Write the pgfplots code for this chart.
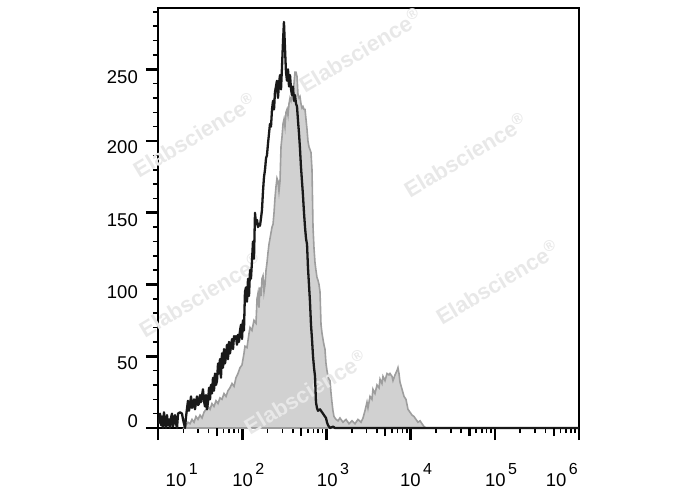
\documentclass[border=0pt]{standalone}
\usepackage{fontspec}
\setmainfont{Liberation Sans}
\usepackage{pgfplots}
\pgfplotsset{compat=1.18}
\usepackage{pgfplotstable}
\newcommand{\ex}[1]{10\hspace{2.5bp}\raisebox{11.5bp}{\fontsize{16bp}{16bp}\selectfont #1}}
\newcommand{\wm}{\bfseries\fontsize{22bp}{22bp}\selectfont}

\pgfplotstableread{
e v
1.012 3
1.024 10
1.036 2
1.048 8
1.059 0
1.071 11
1.083 4
1.095 0
1.107 9
1.119 2
1.131 6
1.143 0
1.154 7
1.166 10
1.178 1
1.190 5
1.202 9
1.214 3
1.226 0
1.238 10
1.261 11
1.285 10
1.297 6
1.321 0
1.333 8
1.356 19
1.368 12
1.380 16
1.392 22
1.404 14
1.428 20
1.439 13
1.463 22
1.475 16
1.487 17
1.499 23
1.511 18
1.534 27
1.546 19
1.558 15
1.570 23
1.582 13
1.594 18
1.606 28
1.618 20
1.629 30
1.641 24
1.653 35
1.665 26
1.677 38
1.689 30
1.701 33
1.713 45
1.724 38
1.736 48
1.748 35
1.760 52
1.772 42
1.784 55
1.796 45
1.808 50
1.819 58
1.831 48
1.843 60
1.855 52
1.867 57
1.879 62
1.891 55
1.903 64
1.914 63
1.926 64
1.938 58
1.950 65
1.962 60
1.974 68
1.986 72
1.998 62
2.009 75
2.021 68
2.033 95
2.045 98
2.057 88
2.069 104
2.081 92
2.093 110
2.104 104
2.116 116
2.128 130
2.140 118
2.152 150
2.164 142
2.176 145
2.188 140
2.199 142
2.211 141
2.223 146
2.235 152
2.247 165
2.259 175
2.271 180
2.283 188
2.294 190
2.306 198
2.318 205
2.330 212
2.342 210
2.354 222
2.366 228
2.378 222
2.389 234
2.401 238
2.413 242
2.425 230
2.437 240
2.449 246
2.461 236
2.473 252
2.485 270
2.496 283
2.508 265
2.520 248
2.532 242
2.544 250
2.556 238
2.568 246
2.580 236
2.591 232
2.603 238
2.615 228
2.627 232
2.639 226
2.651 224
2.663 214
2.675 205
2.686 195
2.698 182
2.710 172
2.722 162
2.734 150
2.746 140
2.758 132
2.770 128
2.781 112
2.793 100
2.805 88
2.817 72
2.829 62
2.841 50
2.853 42
2.865 36
2.876 18
2.888 14
2.900 12
2.924 13
2.948 11
2.971 9
2.995 7
3.007 4
3.019 2
3.043 0
3.078 1
3.102 0
6.000 0
}\blackdata

\pgfplotstableread{
e v
1.309 0
1.333 2
1.356 4
1.380 3
1.404 6
1.428 4
1.451 8
1.475 6
1.499 9
1.523 7
1.546 11
1.570 13
1.594 15
1.618 13
1.641 17
1.665 15
1.689 19
1.713 17
1.736 21
1.760 20
1.784 24
1.808 22
1.831 26
1.855 28
1.879 31
1.903 29
1.926 35
1.950 38
1.974 42
1.998 44
2.021 52
2.033 57
2.057 56
2.081 66
2.093 70
2.116 68
2.140 75
2.164 73
2.176 90
2.188 94
2.199 84
2.211 98
2.223 92
2.235 104
2.247 106
2.259 95
2.271 100
2.283 110
2.294 115
2.306 122
2.318 128
2.330 132
2.342 136
2.354 140
2.366 142
2.378 150
2.389 160
2.401 168
2.413 174
2.425 172
2.437 165
2.449 172
2.461 196
2.473 203
2.485 212
2.496 215
2.508 210
2.520 220
2.532 222
2.544 218
2.556 226
2.568 230
2.580 228
2.591 231
2.603 233
2.615 240
2.627 248
2.639 248
2.651 245
2.663 232
2.675 230
2.686 231
2.698 226
2.710 223
2.722 224
2.734 222
2.746 222
2.758 215
2.770 208
2.781 200
2.793 196
2.805 194
2.817 192
2.829 180
2.841 140
2.853 125
2.865 115
2.876 110
2.888 105
2.900 103
2.912 100
2.924 95
2.936 72
2.948 66
2.959 62
2.971 58
2.983 55
2.995 45
3.007 40
3.019 36
3.031 34
3.043 33
3.054 25
3.066 18
3.078 12
3.090 8
3.114 6
3.138 5
3.161 7
3.197 4
3.233 6
3.268 3
3.304 5
3.340 3
3.375 6
3.411 4
3.435 7
3.458 12
3.482 18
3.494 14
3.518 22
3.541 20
3.553 27
3.577 24
3.601 30
3.625 28
3.637 34
3.660 31
3.672 36
3.696 33
3.720 38
3.743 37
3.755 38
3.779 36
3.791 33
3.815 37
3.838 40
3.850 42
3.862 38
3.874 32
3.898 27
3.922 22
3.945 20
3.969 13
3.993 11
4.017 9
4.040 8
4.064 6
4.088 4
4.112 5
4.135 3
4.159 1
4.183 0
}\graydata

\begin{document}
\begin{tikzpicture}
\path[use as bounding box] (-158bp,-62bp) rectangle (530bp,428bp);
\begin{axis}[
  at={(0,0)}, anchor=south west,
  scale only axis, width=421bp, height=420bp,
  xmin=1, xmax=6, ymin=0, ymax=292.7,
  clip=false,
  axis line style={line width=1.3bp, black},
  tick align=outside,
  xtick pos=left, ytick pos=left,
  xtick={1,2,3,4,5,6}, xticklabels={},
  minor xtick={1.301,1.477,1.602,1.778,1.845,1.903,1.954,
               2.301,2.477,2.602,2.778,2.845,2.903,2.954,
               3.301,3.477,3.602,3.778,3.845,3.903,3.954,
               4.301,4.477,4.602,4.778,4.845,4.903,4.954,
               5.301,5.477,5.602,5.778,5.845,5.903,5.954},
  ytick={0,50,100,150,200,250}, yticklabels={},
  minor ytick={10,20,30,40,60,70,80,90,110,120,130,140,160,170,180,190,210,220,230,240,260,270,280,290},
  major tick length=12bp, minor tick length=5bp,
  major tick style={line width=2.6bp, black},
  minor tick style={line width=1.6bp, black},
  ticklabel style={font=\fontsize{18.5bp}{20bp}\selectfont},
  extra x ticks={1.2815,2.0725,3.078,4.064,5.074,5.795},
  extra x tick labels={\ex{1},\ex{2},\ex{3},\ex{4},\ex{5},\ex{6}},
  extra x tick style={major tick length=0pt, xticklabel style={anchor=base, inner sep=0pt, yshift=-58bp}},
  extra y ticks={4.5,45.4,94.6,145.2,195.5,244.7},
  extra y tick labels={0,50,100,150,200,250},
  extra y tick style={major tick length=0pt, yticklabel style={anchor=east, inner sep=0pt, xshift=-20bp}},
]
\addplot[fill=black!18, draw=black!38, line width=1.6bp] table[x=e,y=v] {\graydata} \closedcycle;
\node[rotate=31, text=black!9, font=\wm] at (axis cs:1.4276,204.2) {Elabscience\textsuperscript{®}};
\node[rotate=31, text=black!9, font=\wm] at (axis cs:3.399,263.4) {Elabscience\textsuperscript{®}};
\node[rotate=31, text=black!9, font=\wm] at (axis cs:4.646,190.3) {Elabscience\textsuperscript{®}};
\node[rotate=31, text=black!9, font=\wm] at (axis cs:5.026,101.7) {Elabscience\textsuperscript{®}};
\node[rotate=31, text=black!9, font=\wm] at (axis cs:1.499,92.7) {Elabscience\textsuperscript{®}};
\node[rotate=31, text=black!9, font=\wm] at (axis cs:2.746,25.1) {Elabscience\textsuperscript{®}};
\addplot[black!90, line width=2.3bp, line join=round] table[x=e,y=v] {\blackdata};
\end{axis}
\begin{axis}[
  at={(0,0)}, anchor=south west,
  scale only axis, width=421bp, height=420bp,
  xmin=1, xmax=6, ymin=0, ymax=292.7,
  axis line style={draw=none},
  tick align=outside, xtick pos=left,
  xtick={1.699,2.699,3.699,4.699,5.699}, xticklabels={},
  ytick=\empty,
  major tick length=8bp,
  major tick style={line width=2.2bp, black},
]
\end{axis}
\end{tikzpicture}
\end{document}
